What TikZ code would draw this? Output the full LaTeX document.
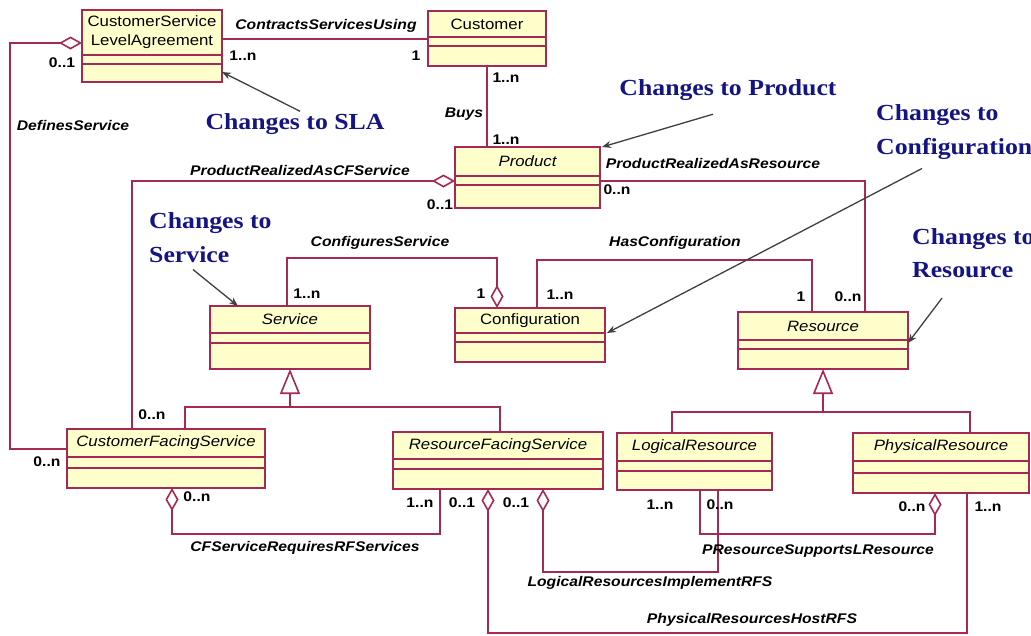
\documentclass[tikz,border=0pt]{standalone}
\usepackage{fontspec}
\setmainfont{Liberation Sans}[FakeStretch=1.12]
\newfontfamily\notefont{Liberation Serif}[FakeStretch=1.12]
\usetikzlibrary{arrows.meta,calc}

\definecolor{umlborder}{RGB}{165,40,85}
\definecolor{umlfill}{RGB}{255,255,204}
\definecolor{notecol}{RGB}{20,20,130}

\tikzset{
  clsbox/.style={rectangle, draw=umlborder, fill=umlfill, line width=1.4pt, inner sep=0pt, outer sep=0pt},
  clsline/.style={draw=umlborder, line width=1.2pt},
  clstitle/.style={font=\fontsize{15}{19}\selectfont, text=black, inner sep=0pt, align=center},
  assoc/.style={draw=umlborder, line width=1.6pt},
  aggend/.style={-{Diamond[length=23pt,width=13pt,fill=white]}},
  aggstart/.style={{Diamond[length=23pt,width=13pt,fill=white]}-},
  genend/.style={-{Triangle[length=25pt,width=20pt,fill=white]}},
  lbl/.style={font=\fontsize{14}{16}\selectfont\bfseries\itshape, inner sep=0pt},
  mult/.style={font=\fontsize{14}{16}\selectfont\bfseries, inner sep=0pt},
  note/.style={font=\notefont\fontsize{23}{33.5}\selectfont\bfseries, text=notecol, align=left, inner sep=0pt},
  notearrow/.style={draw=black!75, line width=1.3pt, -{Stealth[length=9pt,width=7pt]}}
}

% class box: name, left, top, right, bottom, first divider, second divider, title
\newcommand\umlclass[8]{%
  \node[clsbox, anchor=north west, minimum width={(#4-#2)*1pt}, minimum height={(#5-#3)*1pt}] (#1) at (#2,#3) {};
  \draw[clsline] (#2,#6) -- (#4,#6) (#2,#7) -- (#4,#7);
  \node[clstitle] (#1-title) at ({(#2+#4)/2},{(#3+#6)/2}) {#8};
}

\begin{document}
\begin{tikzpicture}[x=1pt,y=-1pt]
\useasboundingbox[fill=white] (0,0) rectangle (1031,635);

% classes
\umlclass{csla}{82}{10}{222}{82}{55}{64}{CustomerService\\LevelAgreement}
\umlclass{cust}{428}{11}{546}{66}{37}{46}{Customer}
\umlclass{prod}{455}{147}{600}{208}{176}{185}{\itshape Product}
\umlclass{svc}{210}{306}{370}{369}{333}{343}{\itshape Service}
\umlclass{conf}{455}{308}{605}{362}{333}{342}{Configuration}
\umlclass{res}{738}{312}{908}{369}{340}{349}{\itshape Resource}
\umlclass{cfs}{67}{429}{265}{488}{457}{468}{\itshape CustomerFacingService}
\umlclass{rfs}{393}{432}{603}{489}{459}{469}{\itshape ResourceFacingService}
\umlclass{lr}{617}{433}{772}{490}{461}{471}{\itshape LogicalResource}
\umlclass{pr}{853}{433}{1029}{493}{461}{473}{\itshape PhysicalResource}

% associations
\draw[assoc] ([yshift=-28pt]cust.north west) -- ([yshift=-29pt]csla.north east);
\draw[assoc, aggend] ([yshift=-20pt]cfs.north west) -| (10,43) -- ([yshift=-33pt]csla.north west);
\draw[assoc] (cust.south) -- (cust.south |- prod.north);
\draw[assoc, aggend] ([xshift=65pt]cfs.north west) |- ([yshift=-34pt]prod.north west);
\draw[assoc] ([yshift=-34pt]prod.north east) -| ([xshift=-43pt]res.north east);
\draw[assoc, aggend] ([xshift=77pt]svc.north west) |- (400,258) -| ([xshift=42pt]conf.north west);
\draw[assoc] ([xshift=82pt]conf.north west) |- (700,260) -| ([xshift=74pt]res.north west);
\draw[assoc, aggstart] ([xshift=105pt]cfs.south west) |- (300,534) -| ([xshift=47pt]rfs.south west);
\draw[assoc, aggstart] ([xshift=95pt]rfs.south west) |- (700,633) -| ([xshift=114pt]pr.south west);
\draw[assoc, aggstart] ([xshift=150pt]rfs.south west) |- (600,572) -| ([xshift=101pt]lr.south west);
\draw[assoc, aggend] ([xshift=83pt]lr.south west) |- (800,534) -| ([xshift=82pt]pr.south west);

% generalizations
\draw[assoc] ([xshift=118pt]cfs.north west) |- (350,407) -| ([xshift=107pt]rfs.north west);
\coordinate (svcjoin) at (290,407);
\draw[assoc, genend] (svcjoin) -- (svc.south);
\draw[assoc] ([xshift=55pt]lr.north west) |- (800,412) -| ([xshift=117pt]pr.north west);
\coordinate (resjoin) at (823,412);
\draw[assoc, genend] (resjoin) -- (res.south);

% association names
\foreach \n/\x/\y/\t in {
  l1/326/26/ContractsServicesUsing,
  l2/73/125/DefinesService,
  l3/464/114/Buys,
  l4/300/170/ProductRealizedAsCFService,
  l5/713/163/ProductRealizedAsResource,
  l6/380/243/ConfiguresService,
  l7/675/243/HasConfiguration,
  l8/305/548/CFServiceRequiresRFServices,
  l9/650/583/LogicalResourcesImplementRFS,
  l10/818/551/PResourceSupportsLResource,
  l11/752/620/PhysicalResourcesHostRFS}
  \node[lbl] (\n) at (\x,\y) {\t};

% multiplicities
\foreach \n/\x/\y/\t in {
  m1/243/56/1..n, m2/416/56/1, m3/62/63/0..1, m4/47/462/0..n,
  m5/506/78/1..n, m6/506/140/1..n, m7/440/205/0..1, m8/152/415/0..n,
  m9/617/190/0..n, m10/848/297/0..n, m11/307/294/1..n, m12/481/294/1,
  m13/560/295/1..n, m14/801/297/1, m15/197/497/0..n, m16/420/503/1..n,
  m17/462/503/0..1, m18/516/503/0..1, m19/660/505/1..n, m20/720/505/0..n,
  m21/912/507/0..n, m22/988/507/1..n}
  \node[mult] (\n) at (\x,\y) {\t};

% change notes
\node[note] (nsla) at (295,124) {Changes to SLA};
\node[note] (nprod) at (728,90.5) {Changes to Product};
\node[note, anchor=west] (nconf) at (876,132) {Changes to\\Configuration};
\node[note, anchor=west] (nres) at (912,253) {Changes to\\Resource};
\node[note, anchor=west] (nsvc) at (149,237.5) {Changes to\\Service};

\draw[notearrow] ([xshift=5pt,yshift=2pt]nsla.north) -- ([yshift=10pt]csla.south east);
\draw[notearrow] ([xshift=-15pt,yshift=-13pt]nprod.south) -- ([xshift=2pt]prod.north east);
\draw[notearrow] ([xshift=46pt,yshift=-9pt]nconf.south west) -- ([xshift=2pt,yshift=-25pt]conf.north east);
\draw[notearrow] ([xshift=30pt,yshift=-20pt]nres.south west) -- ([yshift=-31pt]res.north east);
\draw[notearrow] ([xshift=44pt,yshift=-7pt]nsvc.south west) -- ([xshift=28pt]svc.north west);
\end{tikzpicture}
\end{document}
